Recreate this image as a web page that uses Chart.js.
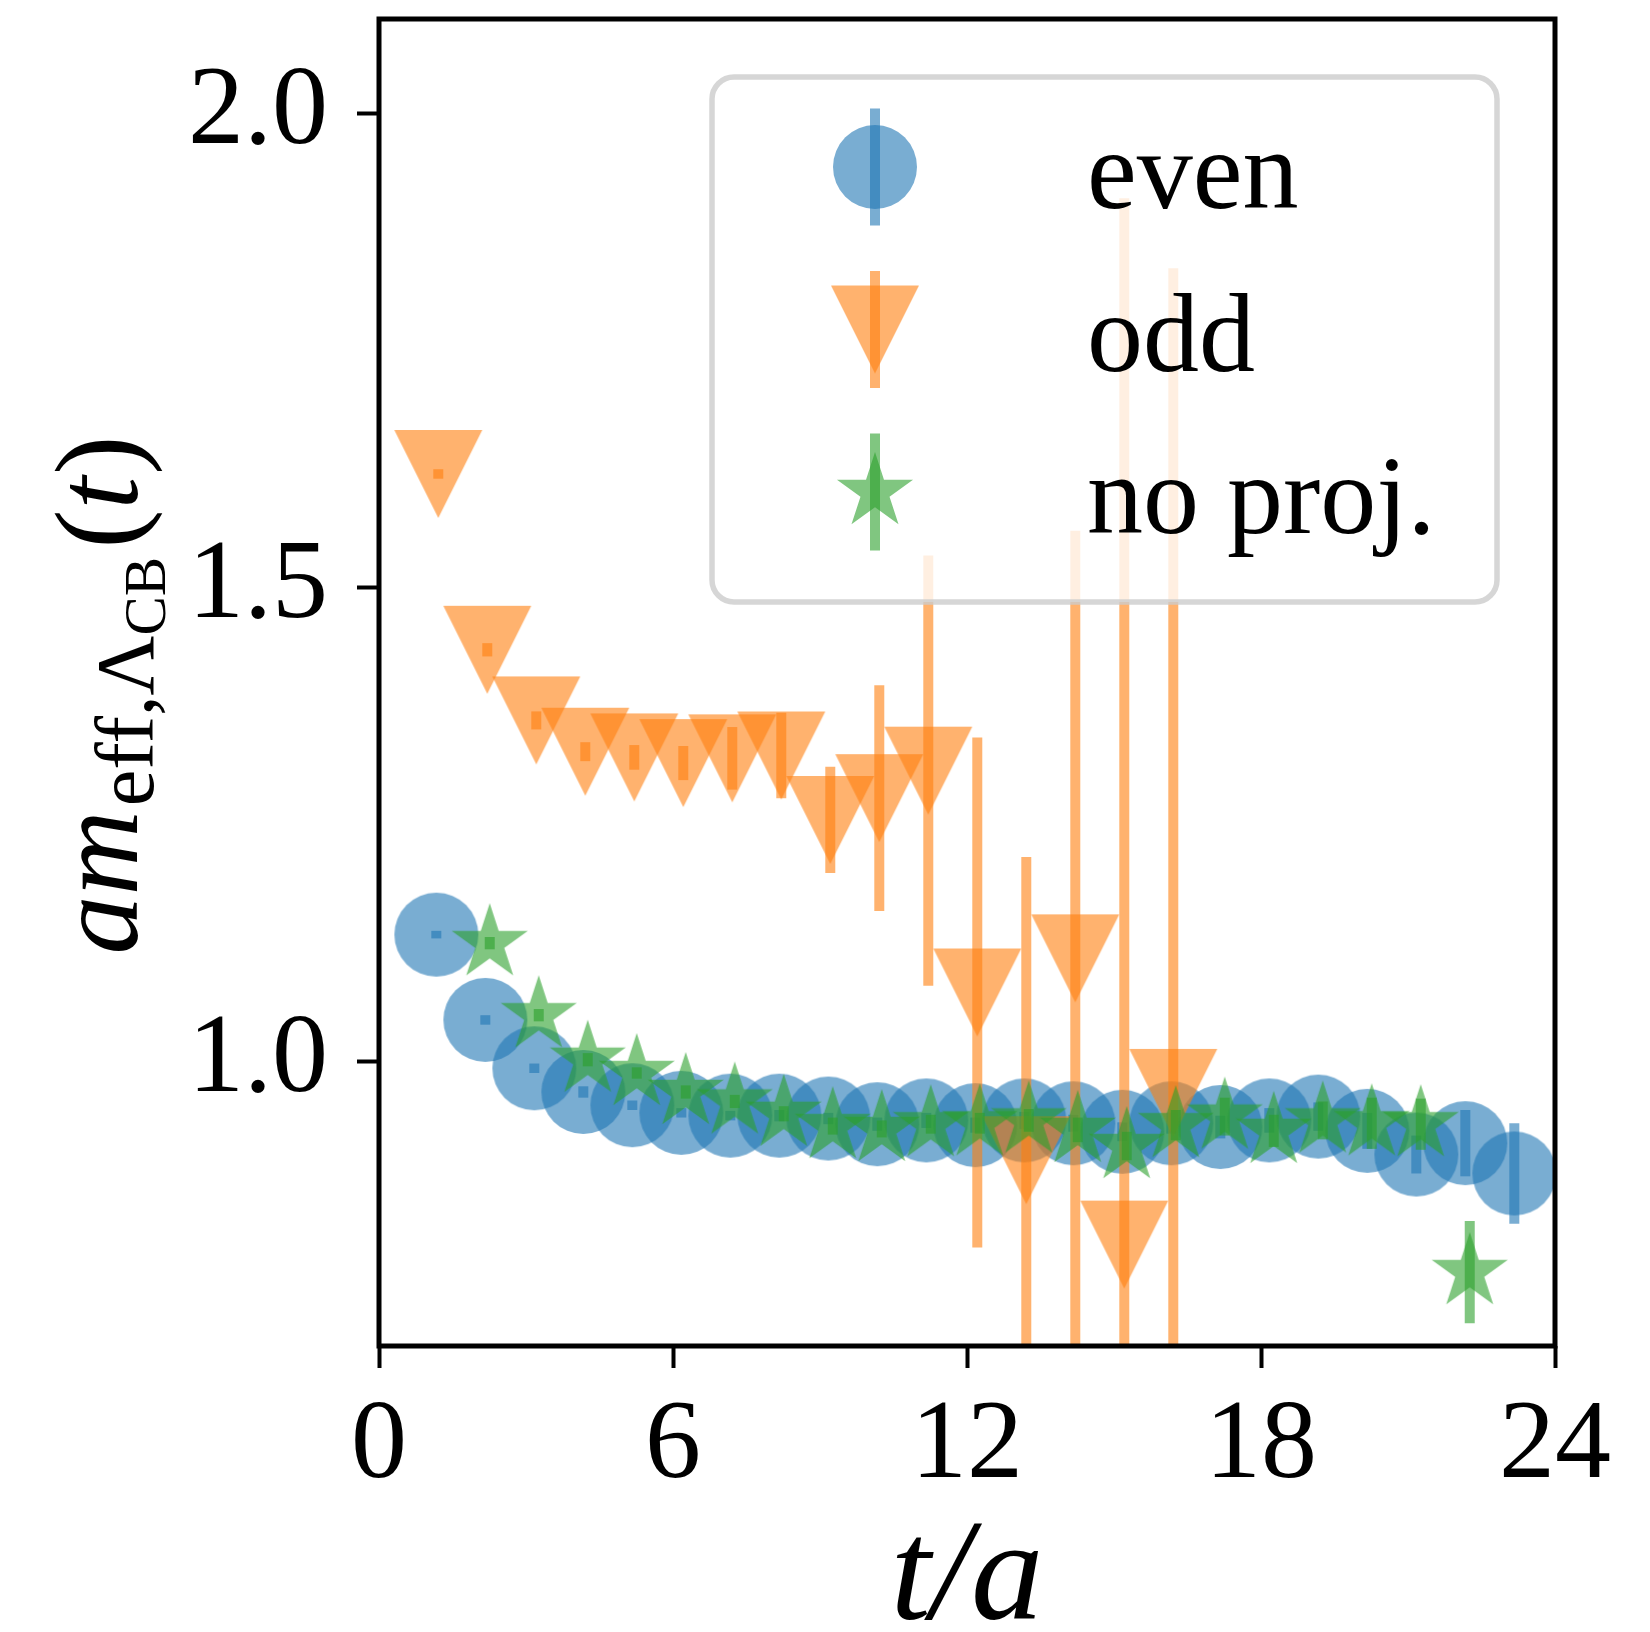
<!DOCTYPE html>
<html>
<head>
<meta charset="utf-8">
<script src="https://cdn.jsdelivr.net/npm/chart.js@4.4.1/dist/chart.umd.min.js"></script>
<style>
  html, body { margin: 0; padding: 0; background: #fff; }
  canvas { display: block; }
</style>
</head>
<body>
<canvas id="effMass" width="1650" height="1632" style="width:1650px;height:1632px"></canvas>
<script>
// effective mass data
const evenT = [1, 2, 3, 4, 5, 6, 7, 8, 9, 10, 11, 12, 13, 14, 15, 16, 17, 18, 19, 20, 21, 22, 23];
const evenMass = [1.134, 1.044, 0.993, 0.968, 0.954, 0.946, 0.943, 0.943, 0.940, 0.934, 0.938, 0.933,
                  0.938, 0.935, 0.926, 0.935, 0.931, 0.938, 0.942, 0.927, 0.902, 0.914, 0.882];
const evenErr = [0.004, 0.005, 0.005, 0.006, 0.005, 0.005, 0.005, 0.006, 0.006, 0.007, 0.008, 0.008,
                 0.009, 0.009, 0.010, 0.011, 0.012, 0.013, 0.015, 0.019, 0.020, 0.035, 0.053];

const oddT = [1, 2, 3, 4, 5, 6, 7, 8, 9, 10, 11, 12, 13, 14, 15, 16];
const oddMass = [1.620, 1.4345, 1.360, 1.327, 1.321, 1.315, 1.320, 1.323, 1.255, 1.278, 1.307, 1.073,
                 0.896, 1.109, 0.807, 0.967];
const oddErr = [0.005, 0.007, 0.0095, 0.010, 0.013, 0.018, 0.033, 0.045, 0.056, 0.119, 0.227, 0.269,
                0.320, 0.451, 1.104, 0.870];

const noProjT = [2, 3, 4, 5, 6, 7, 8, 9, 10, 11, 12, 13, 14, 15, 16, 17, 18, 19, 20, 21, 22];
const noProjMass = [1.125, 1.049, 1.002, 0.988, 0.968, 0.958, 0.945, 0.932, 0.929, 0.934, 0.935, 0.938,
                    0.928, 0.911, 0.933, 0.942, 0.927, 0.938, 0.935, 0.934, 0.778];
const noProjErr = [0.0065, 0.0065, 0.007, 0.006, 0.007, 0.007, 0.008, 0.009, 0.009, 0.010, 0.011, 0.012,
                   0.013, 0.015, 0.016, 0.020, 0.017, 0.020, 0.027, 0.027, 0.054];

// small horizontal shifts so the three channels don't sit on top of each other
const evenShift = 0.17;
const oddShift = 0.21;
const noProjShift = 0.26;

const xTicks = [0, 6, 12, 18, 24];
const yTicks = [1.0, 1.5, 2.0];
const seriesLabels = ['even', 'odd', 'no proj.'];

const FONT = "'Liberation Serif', 'Times New Roman', serif";
const BLUE = '#1f77b4', ORANGE = '#ff7f0e', GREEN = '#2ca02c';

// marker images, matplotlib-like shapes with alpha 0.6
function makeMarker(kind, color) {
    const c = document.createElement('canvas');
    c.width = 90; c.height = 90;
    const g = c.getContext('2d');
    const m = 45;
    g.globalAlpha = 0.6;
    g.fillStyle = color;
    g.beginPath();
    if (kind === 'circle') {
        g.arc(m, m, 42, 0, Math.PI * 2);
    } else if (kind === 'triangleDown') {
        g.moveTo(m - 44, m - 44);
        g.lineTo(m + 44, m - 44);
        g.lineTo(m, m + 44);
        g.closePath();
    } else {
        for (let i = 0; i < 10; i++) {
            const r = i % 2 ? 40 * 0.381966 : 40;
            const a = -Math.PI / 2 + i * Math.PI / 5;
            const px = m + r * Math.cos(a), py = m + r * Math.sin(a);
            if (i === 0) g.moveTo(px, py); else g.lineTo(px, py);
        }
        g.closePath();
    }
    g.fill();
    return c;
}

const markers = {
    even: makeMarker('circle', BLUE),
    odd: makeMarker('triangleDown', ORANGE),
    noProj: makeMarker('star', GREEN)
};

function points(ts, ms, es, shift) {
    return ts.map((t, i) => ({ x: t + shift, y: ms[i], err: es[i] }));
}

// vertical error bars, drawn just before each dataset's markers
const errorBarPlugin = {
    id: 'errorBars',
    beforeDatasetDraw(chart, args) {
        const ds = chart.data.datasets[args.index];
        const yScale = chart.scales.y;
        const area = chart.chartArea;
        const ctx = chart.ctx;
        ctx.save();
        ctx.beginPath();
        ctx.rect(area.left, area.top, area.right - area.left, area.bottom - area.top);
        ctx.clip();
        ctx.globalAlpha = 0.6;
        ctx.strokeStyle = ds.errColor;
        ctx.lineWidth = 10;
        ctx.lineCap = 'butt';
        args.meta.data.forEach((pt, i) => {
            const d = ds.data[i];
            ctx.beginPath();
            ctx.moveTo(pt.x, yScale.getPixelForValue(d.y - d.err));
            ctx.lineTo(pt.x, yScale.getPixelForValue(d.y + d.err));
            ctx.stroke();
        });
        ctx.restore();
    }
};

// full box of spines on top of the data
const spinePlugin = {
    id: 'spines',
    afterDatasetsDraw(chart) {
        const a = chart.chartArea, ctx = chart.ctx;
        ctx.save();
        ctx.strokeStyle = '#000';
        ctx.lineWidth = 5;
        ctx.strokeRect(a.left, a.top, a.right - a.left, a.bottom - a.top);
        ctx.restore();
    }
};

// legend box in the upper right, drawn over the data like matplotlib
const legendPlugin = {
    id: 'mplLegend',
    afterDraw(chart) {
        const ctx = chart.ctx;
        const box = { x: 712, y: 77, w: 785, h: 525, r: 22 };
        ctx.save();
        ctx.beginPath();
        ctx.roundRect(box.x, box.y, box.w, box.h, box.r);
        ctx.fillStyle = 'rgba(255,255,255,0.8)';
        ctx.fill();
        ctx.lineWidth = 5.5;
        ctx.strokeStyle = 'rgba(204,204,204,0.8)';
        ctx.stroke();

        const rows = [
            { img: markers.even, color: BLUE, y: 167 },
            { img: markers.odd, color: ORANGE, y: 329.5 },
            { img: markers.noProj, color: GREEN, y: 492 }
        ];
        const mx = 875;
        rows.forEach((row, i) => {
            ctx.globalAlpha = 0.6;
            ctx.strokeStyle = row.color;
            ctx.lineWidth = 10;
            ctx.beginPath();
            ctx.moveTo(mx, row.y - 58.5);
            ctx.lineTo(mx, row.y + 58.5);
            ctx.stroke();
            ctx.globalAlpha = 1;
            ctx.drawImage(row.img, mx - row.img.width / 2, row.y - row.img.height / 2);
            ctx.fillStyle = '#000';
            ctx.font = '112px ' + FONT;
            ctx.textBaseline = 'alphabetic';
            ctx.textAlign = 'left';
            ctx.fillText(seriesLabels[i], 1087, row.y + 41);
        });
        ctx.restore();
    }
};

// y axis title with sub- and sub-subscripts
const yTitlePlugin = {
    id: 'yTitle',
    afterDraw(chart) {
        const ctx = chart.ctx;
        const base = 118;
        const parts = [
            { text: 'am', italic: true, size: base, shift: 0, gap: 4 },
            { text: 'eff,\u039B', italic: false, size: base * 0.7, shift: 16, gap: 0 },
            { text: 'CB', italic: false, size: base * 0.5, shift: 28, gap: 8 },
            { text: '(', italic: false, size: base, shift: 0, gap: 0 },
            { text: 't', italic: true, size: base, shift: 0, gap: 2 },
            { text: ')', italic: false, size: base, shift: 0, gap: 0 }
        ];
        const fontOf = p => (p.italic ? 'italic ' : '') + p.size + 'px ' + FONT;
        let total = 0;
        parts.forEach(p => {
            ctx.font = fontOf(p);
            p.w = ctx.measureText(p.text).width;
            total += p.w + p.gap;
        });
        ctx.save();
        ctx.translate(137, 695);
        ctx.rotate(-Math.PI / 2);
        ctx.fillStyle = '#000';
        ctx.textBaseline = 'alphabetic';
        ctx.textAlign = 'left';
        let x = -total / 2;
        parts.forEach(p => {
            ctx.font = fontOf(p);
            ctx.fillText(p.text, x, p.shift);
            x += p.w + p.gap;
        });
        ctx.restore();
    }
};

const ctx = document.getElementById('effMass').getContext('2d');

new Chart(ctx, {
    type: 'scatter',
    data: {
        datasets: [
            {
                label: seriesLabels[0],
                data: points(evenT, evenMass, evenErr, evenShift),
                pointStyle: markers.even,
                pointRadius: 42,
                errColor: BLUE,
                order: 3,
                clip: 0
            },
            {
                label: seriesLabels[1],
                data: points(oddT, oddMass, oddErr, oddShift),
                pointStyle: markers.odd,
                pointRadius: 44,
                errColor: ORANGE,
                order: 2,
                clip: 0
            },
            {
                label: seriesLabels[2],
                data: points(noProjT, noProjMass, noProjErr, noProjShift),
                pointStyle: markers.noProj,
                pointRadius: 40,
                errColor: GREEN,
                order: 1,
                clip: 0
            }
        ]
    },
    options: {
        responsive: false,
        animation: false,
        events: [],
        layout: {
            autoPadding: false,
            padding: { left: 0, right: 95, top: 19, bottom: 0 }
        },
        plugins: {
            legend: { display: false },
            tooltip: { enabled: false }
        },
        scales: {
            x: {
                type: 'linear',
                min: 0,
                max: 24,
                afterBuildTicks: function(scale) {
                    scale.ticks = xTicks.map(v => ({ value: v }));
                },
                afterFit: function(scale) {
                    scale.height = 286;
                    scale.paddingLeft = 0;
                    scale.paddingRight = 0;
                },
                border: { display: false },
                grid: {
                    drawOnChartArea: false,
                    drawTicks: true,
                    tickLength: 22,
                    tickWidth: 4,
                    tickColor: '#000'
                },
                ticks: {
                    autoSkip: false,
                    maxRotation: 0,
                    padding: 12,
                    color: '#000',
                    font: { family: FONT, size: 112 },
                    callback: function(value) {
                        return String(value);
                    }
                },
                title: {
                    display: true,
                    text: 't/a',
                    color: '#000',
                    font: { family: FONT, size: 145, style: 'italic', lineHeight: 0.7 },
                    padding: { top: 0, bottom: 0 }
                }
            },
            y: {
                type: 'linear',
                min: 0.7,
                max: 2.1,
                afterBuildTicks: function(scale) {
                    scale.ticks = yTicks.map(v => ({ value: v }));
                },
                afterFit: function(scale) {
                    scale.width = 379;
                    scale.paddingTop = 0;
                    scale.paddingBottom = 0;
                },
                border: { display: false },
                grid: {
                    drawOnChartArea: false,
                    drawTicks: true,
                    tickLength: 22,
                    tickWidth: 4,
                    tickColor: '#000'
                },
                ticks: {
                    autoSkip: false,
                    padding: 29,
                    color: '#000',
                    font: { family: FONT, size: 112 },
                    callback: function(value) {
                        return value.toFixed(1);
                    }
                }
            }
        }
    },
    plugins: [errorBarPlugin, spinePlugin, legendPlugin, yTitlePlugin]
});
</script>
</body>
</html>
